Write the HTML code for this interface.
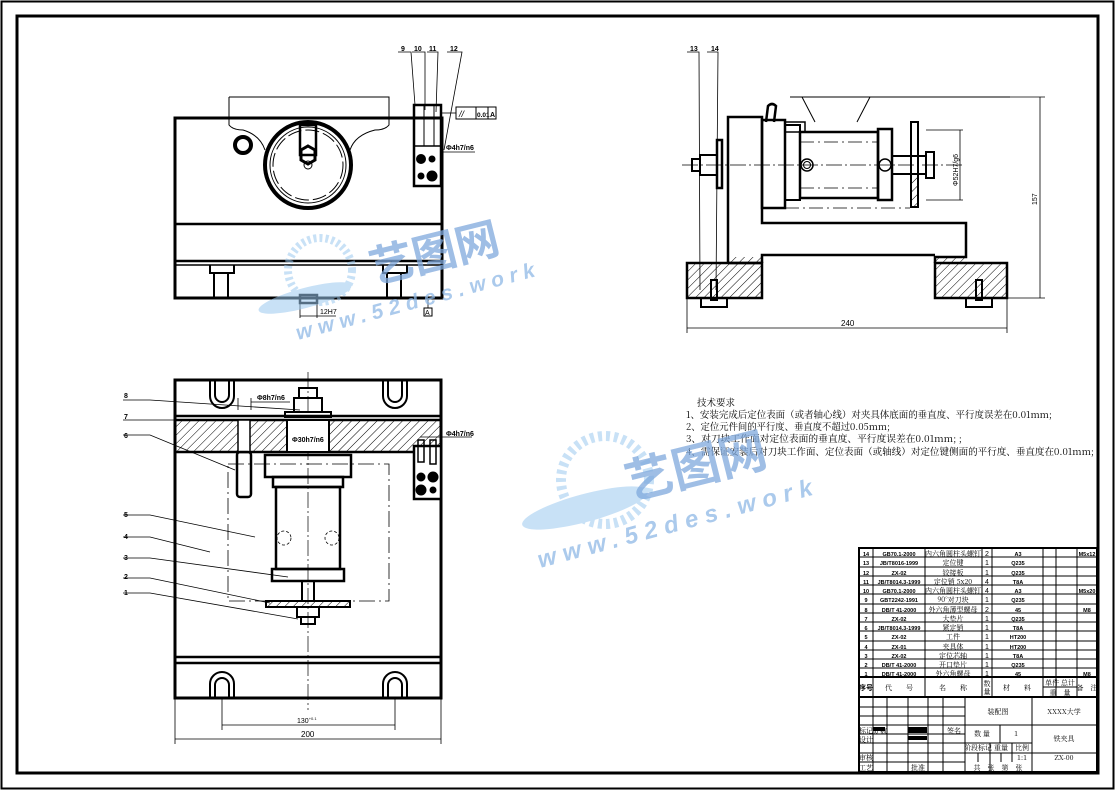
<!DOCTYPE html>
<html><head><meta charset="utf-8"><style>
html,body{margin:0;padding:0;background:#fff}
svg{display:block}
text{font-family:"Liberation Sans","Noto Sans CJK SC",sans-serif;fill:#000}
.cj{font-family:"Noto Serif CJK SC","Noto Sans CJK SC",serif}
</style></head><body>
<svg width="1116" height="790" viewBox="0 0 1116 790" xmlns="http://www.w3.org/2000/svg">
<defs>
<pattern id="h" width="6" height="6" patternUnits="userSpaceOnUse" patternTransform="rotate(45)"><line x1="0" y1="0" x2="0" y2="6" stroke="#000" stroke-width="1"/></pattern>
</defs>
<rect width="1116" height="790" fill="#fff"/>
<rect x="1.5" y="1.5" width="1112" height="787" fill="none" stroke="#000" stroke-width="2"/>
<rect x="17" y="16" width="1081" height="757" fill="none" stroke="#000" stroke-width="3"/>

<!-- ===== TOP VIEW ===== -->
<g fill="none" stroke="#000">
<path d="M229 97 H389 V125 Q385 130 375 130 Q355 135 350 150 M229 97 V125 Q233 130 243 130 Q260 135 265 150" stroke-width="1"/>
<rect x="175" y="118" width="267" height="180" stroke-width="3"/>
<line x1="175" y1="224" x2="442" y2="224" stroke-width="2.5"/>
<line x1="175" y1="261" x2="442" y2="261" stroke-width="2.5"/>
<line x1="175" y1="265" x2="442" y2="265" stroke-width="1.5"/>
<circle cx="243" cy="145" r="8" stroke-width="4"/>
<circle cx="308" cy="165" r="43" stroke-width="4"/>
<circle cx="308" cy="165" r="38" stroke-width="1"/>
<circle cx="308" cy="165" r="35" stroke-width="1" stroke-dasharray="14 4"/>
<rect x="300" y="125" width="16" height="30" stroke-width="2.5"/>
<polygon points="299,160 303,153 313,153 317,160 313,167 303,167" stroke-width="3" transform="rotate(90 308 160) translate(-5 0)"/>
<circle cx="308" cy="165" r="4" stroke-width="1"/>
<rect x="414" y="105" width="27" height="81" stroke-width="2.5"/>
<line x1="414" y1="146" x2="441" y2="146" stroke-width="1.5"/>
<line x1="424" y1="105" x2="424" y2="146" stroke-width="1"/>
<line x1="434" y1="105" x2="434" y2="146" stroke-width="1"/>
<circle cx="421" cy="159" r="4.5" fill="#000"/><circle cx="432" cy="159" r="3" fill="#000"/>
<circle cx="421" cy="176" r="3" fill="#000"/><circle cx="432" cy="176" r="5" fill="#000"/>
<path d="M210 265 V273 H214 V298 M234 265 V273 H228 V298 M210 273 H234" stroke-width="2"/>
<path d="M383 265 V273 H387 V298 M407 265 V273 H401 V298 M383 273 H407" stroke-width="2"/>
<rect x="300" y="295" width="17" height="8" stroke-width="2.5"/>
<line x1="300" y1="303" x2="300" y2="318" stroke-width="0.8"/><line x1="317" y1="303" x2="317" y2="318" stroke-width="0.8"/>
<line x1="300" y1="316" x2="336" y2="316" stroke-width="0.8"/>
<path d="M398 52 H411 L415 105 M412 52 H425 L425 110 M427 52 H438 L436 112 M447 52 H462 L444 150" stroke-width="0.8"/>
<rect x="456" y="107" width="40" height="12" stroke-width="1"/>
<line x1="476" y1="107" x2="476" y2="119"/><line x1="488" y1="107" x2="488" y2="119"/>
<line x1="441" y1="113" x2="456" y2="113" stroke-width="0.8"/>
<line x1="441" y1="152" x2="475" y2="152" stroke-width="0.8"/>
<rect x="424" y="308" width="8" height="8" stroke-width="1"/>
<line x1="428" y1="298" x2="428" y2="308" stroke-width="0.8"/>
</g>
<text x="401" y="51" font-size="7" font-weight="bold">9</text>
<text x="414" y="51" font-size="7" font-weight="bold">10</text>
<text x="429" y="51" font-size="7" font-weight="bold">11</text>
<text x="450" y="51" font-size="7" font-weight="bold">12</text>
<text x="459" y="117" font-size="9" font-style="italic">//</text>
<text x="477" y="117" font-size="6.5" font-weight="bold">0.01</text>
<text x="490" y="117" font-size="7" font-weight="bold">A</text>
<text x="446" y="150" font-size="7" font-weight="bold">Φ4h7/n6</text>
<text x="320" y="314" font-size="7">12H7</text>
<text x="425" y="315" font-size="7">A</text>

<!-- ===== RIGHT VIEW ===== -->
<g fill="none" stroke="#000">
<line x1="682" y1="165" x2="962" y2="165" stroke-width="0.7" stroke-dasharray="16 3 2 3"/>
<path d="M802 97 L815 122 M870 97 L857 122 M790 97 H1010" stroke-width="1"/>
<rect x="687" y="263" width="75" height="35" fill="url(#h)" stroke-width="2.5"/>
<rect x="935" y="263" width="72" height="35" fill="url(#h)" stroke-width="2.5"/>
<path d="M728 263 V117 H762 V223 H966 V257 H935 V263" stroke-width="2.5"/>
<path d="M728 263 H762 M762 263 V255 H935" stroke-width="2.5"/>
<rect x="728" y="257" width="34" height="6" fill="url(#h)" stroke="none"/>
<rect x="935" y="257" width="30" height="6" fill="url(#h)" stroke="none"/>
<rect x="701" y="298" width="26" height="9" stroke-width="2"/>
<rect x="966" y="298" width="26" height="9" stroke-width="2"/>
<rect x="711" y="280" width="6" height="20" stroke-width="2"/>
<rect x="976" y="280" width="6" height="20" stroke-width="2"/>
<rect x="762" y="120" width="23" height="88" stroke-width="2.5"/>
<rect x="785" y="125" width="15" height="75" stroke-width="2"/>
<path d="M766 122 L768 106 Q772 102 776 106 L774 122" stroke-width="2.5"/>
<rect x="785" y="122" width="20" height="10" stroke-width="1.5"/>
<rect x="800" y="132" width="78" height="66" stroke-width="2.5"/>
<rect x="878" y="129" width="14" height="71" stroke-width="2.5"/>
<rect x="911" y="122" width="7" height="85" stroke-width="2"/>
<rect x="912" y="175" width="5" height="31" fill="url(#h)" stroke="none"/>
<rect x="892" y="156" width="34" height="18" stroke-width="2"/>
<rect x="926" y="152" width="8" height="26" stroke-width="2"/>
<circle cx="807" cy="165" r="6" stroke-width="1.5"/><circle cx="807" cy="165" r="3.5" stroke-width="1"/>
<circle cx="885" cy="165" r="6" stroke-width="1.5"/>
<path d="M800 142 H878 M800 188 H878 M785 208 H910" stroke-width="0.7" stroke-dasharray="14 4 2 4"/>
<rect x="717" y="140" width="5" height="48" stroke-width="2.5"/>
<rect x="700" y="155" width="17" height="20" stroke-width="2"/>
<rect x="692" y="159" width="8" height="12" stroke-width="2"/>
<path d="M687 52 H699 L700 290 M707 52 H718 L716 290" stroke-width="0.8"/>
<path d="M687 298 V333 M1007 298 V333 M687 328 H1007" stroke-width="0.8"/>
<path d="M926 130 H963 M926 200 H963 M960 130 V200" stroke-width="0.8"/>
<path d="M1000 97 H1045 M1007 298 H1045 M1040 97 V298" stroke-width="0.8"/>
</g>
<text x="690" y="51" font-size="7" font-weight="bold">13</text>
<text x="711" y="51" font-size="7" font-weight="bold">14</text>
<text x="841" y="326" font-size="8">240</text>
<text font-size="7" transform="translate(958 186) rotate(-90)">Φ52H7/g6</text>
<text font-size="7" transform="translate(1037 205) rotate(-90)">157</text>

<!-- ===== BOTTOM VIEW ===== -->
<g fill="none" stroke="#000">
<rect x="175" y="380" width="266" height="318" stroke-width="3"/>
<line x1="175" y1="416" x2="441" y2="416" stroke-width="2.5"/>
<rect x="175" y="420" width="266" height="32" fill="url(#h)" stroke-width="2.5"/>
<line x1="175" y1="657" x2="441" y2="657" stroke-width="2.5"/>
<line x1="175" y1="663" x2="441" y2="663" stroke-width="2.5"/>
<path d="M210 380 V396 A12 12 0 0 0 234 396 V380 M215 380 V395 A7 7 0 0 0 229 395 V380" stroke-width="2"/>
<path d="M383 380 V396 A12 12 0 0 0 407 396 V380 M388 380 V395 A7 7 0 0 0 402 395 V380" stroke-width="2"/>
<path d="M210 698 V684 A12 12 0 0 1 234 684 V698 M215 698 V685 A7 7 0 0 1 229 685 V698" stroke-width="2"/>
<path d="M383 698 V684 A12 12 0 0 1 407 684 V698 M388 698 V685 A7 7 0 0 1 402 685 V698" stroke-width="2"/>
<rect x="228" y="464" width="161" height="137" stroke-width="0.8" stroke-dasharray="16 4 2 4"/>
<line x1="308" y1="372" x2="308" y2="710" stroke-width="0.7" stroke-dasharray="16 3 2 3"/>
<rect x="238" y="420" width="12" height="32" fill="#fff" stroke-width="1.5"/>
<rect x="237" y="452" width="14" height="45" rx="3" stroke-width="2.5"/>
<rect x="287" y="420" width="42" height="32" fill="#fff" stroke-width="2"/>
<rect x="285" y="412" width="46" height="5" stroke-width="2"/>
<rect x="294" y="398" width="28" height="14" stroke-width="2"/>
<rect x="299" y="388" width="18" height="10" stroke-width="2"/>
<rect x="265" y="455" width="86" height="22" stroke-width="2.5"/>
<rect x="273" y="477" width="70" height="10" stroke-width="2.5"/>
<rect x="276" y="487" width="64" height="82" stroke-width="2.5"/>
<rect x="272" y="569" width="72" height="12" stroke-width="2.5"/>
<circle cx="284" cy="538" r="7" stroke-width="0.8" stroke-dasharray="3 2"/>
<circle cx="332" cy="538" r="7" stroke-width="0.8" stroke-dasharray="3 2"/>
<rect x="302" y="581" width="12" height="20" stroke-width="2"/>
<rect x="266" y="601" width="84" height="6" fill="url(#h)" stroke-width="2"/>
<rect x="297" y="607" width="22" height="10" stroke-width="2"/>
<rect x="301" y="617" width="14" height="7" stroke-width="2"/>
<rect x="414" y="446" width="27" height="53" fill="#fff" stroke-width="2.5"/>
<rect x="418" y="440" width="6" height="22" stroke-width="1.5"/><rect x="430" y="440" width="6" height="24" stroke-width="1.5"/>
<circle cx="421" cy="477" r="4" fill="#000"/><circle cx="433" cy="477" r="5" fill="#000"/>
<circle cx="421" cy="490" r="5" fill="#000"/><circle cx="433" cy="490" r="3" fill="#000"/>
<path d="M123 400 H150 L300 410 M123 420 H150 L245 420 M123 435 H150 L235 470 M123 515 H150 L255 537 M123 537 H150 L210 552 M123 558 H150 L288 577 M123 578 H150 L270 603 M123 593 H150 L298 619" stroke-width="0.8"/>
<path d="M238 398 V410 M251 398 V410 M251 402 H290" stroke-width="0.8"/>
<path d="M420 437 H472" stroke-width="0.8"/>
<path d="M222 698 V730 M395 698 V730 M222 725 H395 M175 698 V744 M441 698 V744 M175 739 H441" stroke-width="0.8"/>
</g>
<text x="124" y="398" font-size="7" font-weight="bold">8</text>
<text x="124" y="419" font-size="7" font-weight="bold">7</text>
<text x="124" y="438" font-size="7" font-weight="bold">6</text>
<text x="124" y="517" font-size="7" font-weight="bold">5</text>
<text x="124" y="539" font-size="7" font-weight="bold">4</text>
<text x="124" y="560" font-size="7" font-weight="bold">3</text>
<text x="124" y="579" font-size="7" font-weight="bold">2</text>
<text x="124" y="595" font-size="7" font-weight="bold">1</text>
<text x="257" y="400" font-size="7" font-weight="bold">Φ8h7/n6</text>
<text x="292" y="442" font-size="7" font-weight="bold">Φ30h7/n6</text>
<text x="446" y="436" font-size="7" font-weight="bold">Φ4h7/n6</text>
<text x="297" y="723" font-size="7">130<tspan font-size="4" dy="-3">+0.1</tspan></text>
<text x="301" y="737" font-size="8">200</text>

<!-- ===== TECH REQUIREMENTS ===== -->
<g class="cj" font-size="9.5">
<text class="cj" x="697" y="406" textLength="38">技术要求</text>
<text class="cj" x="686" y="418" textLength="366" lengthAdjust="spacingAndGlyphs">1、安装完成后定位表面（或者轴心线）对夹具体底面的垂直度、平行度误差在0.01mm;</text>
<text class="cj" x="686" y="430" textLength="204" lengthAdjust="spacingAndGlyphs">2、定位元件间的平行度、垂直度不超过0.05mm;</text>
<text class="cj" x="686" y="442" textLength="276" lengthAdjust="spacingAndGlyphs">3、对刀块工作面对定位表面的垂直度、平行度误差在0.01mm; ;</text>
<text class="cj" x="686" y="455" textLength="408" lengthAdjust="spacingAndGlyphs">4、需保证安装后对刀块工作面、定位表面（或轴线）对定位键侧面的平行度、垂直度在0.01mm;</text>
</g>

<!-- ===== BOM ===== -->
<g fill="none" stroke="#000" stroke-width="1">
<rect x="859" y="548" width="238" height="224" stroke-width="2"/>
<path d="M873 548 V697 M925 548 V697 M982 548 V697 M992 548 V697 M1043 548 V697 M1056 548 V697 M1077 548 V697"/>
<path d="M859 557 H1097 M859 567 H1097 M859 576 H1097 M859 585 H1097 M859 594 H1097 M859 604 H1097 M859 613 H1097 M859 622 H1097 M859 631 H1097 M859 641 H1097 M859 650 H1097 M859 659 H1097 M859 668 H1097"/>
<line x1="859" y1="677" x2="1097" y2="677" stroke-width="2"/>
<line x1="1043" y1="687" x2="1077" y2="687"/>
<line x1="859" y1="697" x2="1097" y2="697" stroke-width="2"/>
<path d="M873 697 V772 M887 697 V772 M908 697 V772 M928 697 V772 M943 697 V772 M965 697 V772 M1032 697 V772"/>
<path d="M859 707 H965 M859 716 H965 M859 725 H1097 M859 734 H965 M859 743 H1032 M859 753 H1097 M859 762 H965 M965 753 V762"/>
<path d="M1000 725 V743 M990 743 V772 M1012 743 V762 M978 753 V762 M1001 753 V762"/>
</g>
<rect x="873" y="727" width="12" height="4" fill="#000"/>
<rect x="908" y="727" width="19" height="6" fill="#000"/>
<rect x="908" y="736" width="19" height="4" fill="#000"/>
<g font-size="5.5" font-weight="bold" text-anchor="middle">
<text x="866" y="556">14</text><text x="899" y="556">GB70.1-2000</text><text x="1018" y="556">A3</text><text x="1087" y="556">M5x12</text>
<text x="866" y="565">13</text><text x="899" y="565">JB/T8016-1999</text><text x="1018" y="565">Q235</text>
<text x="866" y="575">12</text><text x="899" y="575">ZX-02</text><text x="1018" y="575">Q235</text>
<text x="866" y="584">11</text><text x="899" y="584">JB/T8014.3-1999</text><text x="1018" y="584">T8A</text>
<text x="866" y="593">10</text><text x="899" y="593">GB70.1-2000</text><text x="1018" y="593">A3</text><text x="1087" y="593">M5x20</text>
<text x="866" y="602">9</text><text x="899" y="602">GBT2242-1991</text><text x="1018" y="602">Q235</text>
<text x="866" y="612">8</text><text x="899" y="612">DB/T 41-2000</text><text x="1018" y="612">45</text><text x="1087" y="612">M8</text>
<text x="866" y="621">7</text><text x="899" y="621">ZX-02</text><text x="1018" y="621">Q235</text>
<text x="866" y="630">6</text><text x="899" y="630">JB/T8014.3-1999</text><text x="1018" y="630">T8A</text>
<text x="866" y="639">5</text><text x="899" y="639">ZX-02</text><text x="1018" y="639">HT200</text>
<text x="866" y="649">4</text><text x="899" y="649">ZX-01</text><text x="1018" y="649">HT200</text>
<text x="866" y="658">3</text><text x="899" y="658">ZX-02</text><text x="1018" y="658">T8A</text>
<text x="866" y="667">2</text><text x="899" y="667">DB/T 41-2000</text><text x="1018" y="667">Q235</text>
<text x="866" y="676">1</text><text x="899" y="676">DB/T 41-2000</text><text x="1018" y="676">45</text><text x="1087" y="676">M8</text>
</g>
<g font-size="7" text-anchor="middle">
<text x="987" y="556">2</text><text x="987" y="565">1</text><text x="987" y="575">1</text><text x="987" y="584">4</text><text x="987" y="593">4</text><text x="987" y="602">1</text><text x="987" y="612">2</text><text x="987" y="621">1</text><text x="987" y="630">1</text><text x="987" y="639">1</text><text x="987" y="649">1</text><text x="987" y="658">1</text><text x="987" y="667">1</text><text x="987" y="676">1</text>
</g>
<g class="cj" font-size="7" text-anchor="middle" fill="#333">
<text class="cj" x="953" y="556">内六角圆柱头螺钉</text><text class="cj" x="953" y="565">定位键</text><text class="cj" x="953" y="575">铰接板</text><text class="cj" x="953" y="584">定位销 5x20</text><text class="cj" x="953" y="593">内六角圆柱头螺钉</text><text class="cj" x="953" y="602">90°对刀块</text><text class="cj" x="953" y="612">外六角薄型螺母</text><text class="cj" x="953" y="621">大垫片</text><text class="cj" x="953" y="630">紧定销</text><text class="cj" x="953" y="639">工件</text><text class="cj" x="953" y="649">夹具体</text><text class="cj" x="953" y="658">定位芯轴</text><text class="cj" x="953" y="667">开口垫片</text><text class="cj" x="953" y="676">外六角螺母</text>
<text class="cj" x="899" y="690">代　　号</text><text class="cj" x="953" y="690">名　　称</text><text class="cj" x="1017" y="690">材　　料</text><text class="cj" x="1087" y="690">备　注</text>
<text class="cj" x="987" y="686">数</text><text class="cj" x="987" y="694">量</text>
<text class="cj" x="1060" y="685">单件 总计</text><text class="cj" x="1060" y="695">重　量</text>
<text class="cj" x="998" y="714">装配图</text><text class="cj" x="1064" y="714">XXXX大学</text>
<text class="cj" x="982" y="736">数 量</text><text class="cj" x="1016" y="736">1</text>
<text class="cj" x="1064" y="741">铁夹具</text>
<text class="cj" x="978" y="750">阶段标记</text><text class="cj" x="1001" y="750">重量</text><text class="cj" x="1022" y="750">比例</text>
<text class="cj" x="1022" y="760">1:1</text><text class="cj" x="1064" y="760">ZX-00</text>
<text class="cj" x="998" y="770">共　张　第　张</text>
<text class="cj" x="866" y="733">标记</text><text class="cj" x="880" y="733">处数</text><text class="cj" x="954" y="733">签名</text><text class="cj" x="866" y="742">设计</text><text class="cj" x="866" y="760">审核</text><text class="cj" x="866" y="770">工艺</text><text class="cj" x="918" y="770">批准</text>
</g>
<text x="859" y="690" font-size="7" font-weight="bold">序号</text>

<!-- ===== WATERMARKS ===== -->
<g opacity="0.55" fill="#7fb0e0">
<ellipse cx="305" cy="298" rx="48" ry="10" transform="rotate(-15 305 298)" fill="#9cc8ef"/>
<circle cx="320" cy="270" r="32" fill="none" stroke="#9cc8ef" stroke-width="8" stroke-dasharray="3 3"/>
<ellipse cx="585" cy="508" rx="65" ry="14" transform="rotate(-15 585 508)" fill="#9cc8ef"/>
<circle cx="605" cy="480" r="44" fill="none" stroke="#9cc8ef" stroke-width="10" stroke-dasharray="4 4"/>
</g>
<g opacity="0.75">
<text x="374" y="284" font-size="44" font-weight="bold" style="fill:#7fa8dc" transform="rotate(-14 374 284)">艺图网</text>
<text x="298" y="340" font-size="21" font-weight="bold" font-style="italic" letter-spacing="6" style="fill:#8fb8e6" transform="rotate(-15 298 340)">www.52des.work</text>
<text x="630" y="500" font-size="48" font-weight="bold" style="fill:#7fa8dc" transform="rotate(-14 630 500)">艺图网</text>
<text x="540" y="568" font-size="24" font-weight="bold" font-style="italic" letter-spacing="7" style="fill:#8fb8e6" transform="rotate(-15 540 568)">www.52des.work</text>
</g>
</svg>
</body></html>
